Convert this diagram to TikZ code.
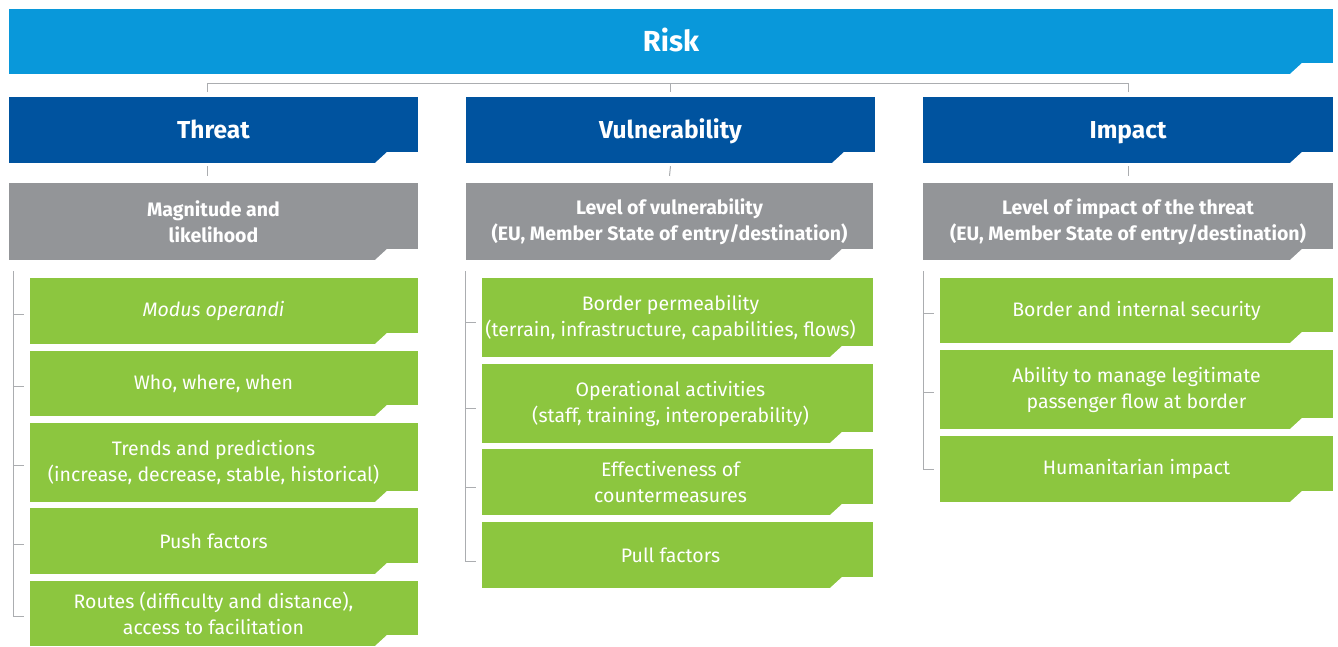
\documentclass[tikz,border=0pt]{standalone}
\usepackage{fontspec}
\setmainfont{Fira Sans}
\usetikzlibrary{calc}

\definecolor{riskblue}{HTML}{0998DA}
\definecolor{headblue}{HTML}{00539F}
\definecolor{levelgrey}{HTML}{939598}
\definecolor{factorgreen}{HTML}{8CC63F}
\definecolor{linkgrey}{HTML}{ABADB0}

\tikzset{
  notched/.style={path picture={
    \fill[white] ($(path picture bounding box.south east)+(-43,0)$) -- ++(12,-11)
      -- ($(path picture bounding box.south east)+(0,-11)$)
      -- (path picture bounding box.south east) -- cycle;}},
  box/.style={rectangle,inner sep=0pt,text=white,align=center,notched},
  riskbox/.style={box,fill=riskblue,minimum width=1324pt,minimum height=65pt,
    text height=23pt,text depth=3pt,font=\bfseries\fontsize{29}{32}\selectfont},
  headbox/.style={box,fill=headblue,minimum height=66pt,
    text height=19pt,text depth=2pt,font=\bfseries\fontsize{24.5}{28}\selectfont},
  levelbox/.style={box,fill=levelgrey,minimum height=77pt,
    font=\bfseries\fontsize{19.5}{26}\selectfont},
  factorbox/.style={box,fill=factorgreen},
  factortext/.style={text=white,align=center,inner sep=0pt,
    font=\fontsize{19.5}{26}\selectfont},
  lab/.style={label={[factortext,xshift=-10.5pt]center:{#1}}},
  labv/.style={label={[factortext,xshift=-7pt]center:{#1}}},
  labi/.style={label={[factortext]center:{#1}}},
  link/.style={draw=linkgrey,line width=1pt}
}

\begin{document}
\begin{tikzpicture}[x=1pt,y=-1pt]
\useasboundingbox (0,0) rectangle (1338,646);

% top level
\node[riskbox] (risk) at (671,41.5) {Risk};

% three columns
\node[headbox,minimum width=409pt] (threat) at (213.5,130) {Threat};
\node[headbox,minimum width=409pt] (vuln) at (670.5,130) {Vulnerability};
\node[headbox,minimum width=410pt] (impact) at (1128,130) {Impact};

\node[levelbox,minimum width=409pt] (magn) at (213.5,221.5) {Magnitude and\\likelihood};
\node[levelbox,minimum width=407pt] (vlevel) at (669.5,221.5) {Level of vulnerability\\(EU, Member State of entry/destination)};
\node[levelbox,minimum width=410pt] (ilevel) at (1128,221.5) {Level of impact of the threat\\(EU, Member State of entry/destination)};

% threat factors
\node[factorbox,minimum width=388pt,minimum height=66pt,lab={\itshape Modus operandi}] (t1) at (224,311) {};
\node[factorbox,minimum width=388pt,minimum height=65pt,lab={Who, where, when}] (t2) at (224,383.5) {};
\node[factorbox,minimum width=388pt,minimum height=79pt,lab={Trends and predictions\\(increase, decrease, stable, historical)}] (t3) at (224,462.5) {};
\node[factorbox,minimum width=388pt,minimum height=66pt,lab={Push factors}] (t4) at (224,541) {};
\node[factorbox,minimum width=388pt,minimum height=65pt,lab={Routes (difficulty and distance),\\access to facilitation}] (t5) at (224,613.5) {};

% vulnerability factors
\node[factorbox,minimum width=391pt,minimum height=79pt,labv={Border permeability\\(terrain, infrastructure, capabilities, flows)}] (v1) at (677.5,317.5) {};
\node[factorbox,minimum width=391pt,minimum height=79pt,labv={Operational activities\\(staff, training, interoperability)}] (v2) at (677.5,403.5) {};
\node[factorbox,minimum width=391pt,minimum height=66pt,labv={Effectiveness of\\countermeasures}] (v3) at (677.5,482) {};
\node[factorbox,minimum width=391pt,minimum height=66pt,labv={Pull factors}] (v4) at (677.5,555) {};

% impact factors
\node[factorbox,minimum width=393pt,minimum height=65pt,labi={Border and internal security}] (i1) at (1136.5,310.5) {};
\node[factorbox,minimum width=393pt,minimum height=79pt,labi={Ability to manage legitimate\\passenger flow at border}] (i2) at (1136.5,389.5) {};
\node[factorbox,minimum width=393pt,minimum height=66pt,labi={Humanitarian impact}] (i3) at (1136.5,469) {};

% risk tree
\draw[link] ([xshift=-6pt,yshift=5pt]threat.north) -- ([xshift=-6pt,yshift=13pt]threat.north)
  -- ([yshift=13pt]impact.north) -- ([yshift=5pt]impact.north);
\draw[link] ([yshift=5pt]vuln.north) -- ([yshift=13pt]vuln.north);
\draw[link] ([xshift=-6pt,yshift=-3pt]threat.south) -- ([xshift=-6pt,yshift=7pt]magn.north);
\draw[link] ([yshift=-3pt]vuln.south) -- ([yshift=7pt]vlevel.north);
\draw[link] ([yshift=-3pt]impact.south) -- ([yshift=7pt]ilevel.north);

% brackets
\draw[link] ($(t1.west |- magn.south)+(-16,11)$) -- ($(t5.west)+(-16,3)$) -- ($(t5.west)+(-6,3)$);
\foreach \n in {t1,t2,t3,t4}
  \draw[link] ($(\n.west)+(-16,3)$) -- ($(\n.west)+(-6,3)$);
\draw[link] ($(v1.west |- vlevel.south)+(-16,11)$) -- ($(v4.west)+(-16,6)$) -- ($(v4.west)+(-6,6)$);
\foreach \n in {v1,v2,v3}
  \draw[link] ($(\n.west)+(-16,5)$) -- ($(\n.west)+(-6,5)$);
\draw[link] ($(i1.west |- ilevel.south)+(-16,11)$) -- ($(i3.west)+(-16,0)$) -- ($(i3.west)+(-6,0)$);
\foreach \n in {i1,i2}
  \draw[link] ($(\n.west)+(-16,3)$) -- ($(\n.west)+(-6,3)$);
\end{tikzpicture}
\end{document}
